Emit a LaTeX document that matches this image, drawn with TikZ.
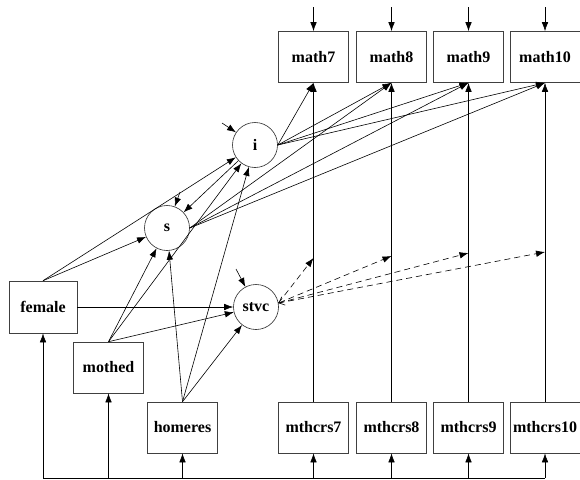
\documentclass[tikz,border=0pt]{standalone}
\usepackage{fontspec}
\setmainfont{Liberation Serif}
\usetikzlibrary{arrows.meta}
\begin{document}
\begin{tikzpicture}[x=1pt, y=-1pt,
        varbox/.style={draw=black!75, line width=0.6pt, minimum width=70pt, minimum height=51pt, inner sep=0pt, font=\fontsize{16}{19}\selectfont\bfseries},
        latcirc/.style={draw=black!85, circle, line width=0.6pt, minimum size=45pt, inner sep=0pt, font=\fontsize{16}{19}\selectfont\bfseries},
        regarrow/.style={-{Latex[length=9pt,width=6.5pt]}, line width=0.6pt},
        modarrow/.style={regarrow, dash pattern=on 6pt off 4pt}
      ]
      \useasboundingbox (0,0) rectangle (580,479);
      \coordinate (exo) at (0,478);
      % growth factors and covariates
      \node[latcirc] (i) at (255,145) {i};
      \node[latcirc] (s) at (167,228) {s};
      \node[latcirc] (stvc) at (256,307) {stvc};
      \node[varbox, minimum width=68pt, minimum height=52pt] (female) at (43,307) {female};
      \node[varbox] (mothed) at (108.5,367.5) {mothed};
      \node[varbox] (homeres) at (182.5,427.5) {homeres};
      % repeated measures
      \foreach \g/\x/\y in {7/313.5/258, 8/391.5/256, 9/468.5/253, 10/545/252} {
        \node[varbox] (math\g) at (\x,57) {math\g};
        \node[varbox] (mthcrs\g) at (\x,427.5) {mthcrs\g};
        \coordinate (rm\g) at (\x,7);
        \coordinate (mod\g) at (\x,\y);
        \draw[regarrow] (rm\g) -- (math\g);
        \draw[regarrow] (mthcrs\g) -- (math\g);
        \draw[regarrow] (i.east) -- (math\g.south);
      }
      \foreach \g in {8,9,10} {
        \draw[regarrow] (s.east) -- (math\g.south);
      }
      % covariate paths
      \foreach \c in {female, mothed, homeres} {
        \draw[regarrow] (\c.north) -- (i);
        \draw[regarrow] (\c.north) -- (s);
      }
      \draw[regarrow] (female) -- (stvc);
      \draw[regarrow] (mothed.north) -- (stvc);
      \draw[regarrow] (homeres.north) -- (stvc);
      \draw[regarrow] (i) -- (s);
      % residuals
      \coordinate (ri) at (222,123);
      \coordinate (rs) at (180,192);
      \coordinate (rstvc) at (236,269);
      \foreach \f in {i, s, stvc} {
        \draw[regarrow] (r\f) -- (\f);
      }
      % moderation of course-taking effects
      \foreach \g in {7,9,10} {
        \draw[modarrow] (stvc.10) -- (mod\g);
      }
      \draw[modarrow, {Straight Barb[length=5pt,width=9pt]}-{Latex[length=9pt,width=6.5pt]}] (stvc.10) -- (mod8);
      % exogenous line
      \foreach \v in {female, mothed, homeres, mthcrs7, mthcrs8, mthcrs9, mthcrs10} {
        \coordinate (e-\v) at (\v.south |- exo);
        \draw[regarrow] (e-\v) -- (\v);
      }
      \draw[line width=0.6pt] (e-female) -- (e-mthcrs10);
    \end{tikzpicture}
\end{document}
